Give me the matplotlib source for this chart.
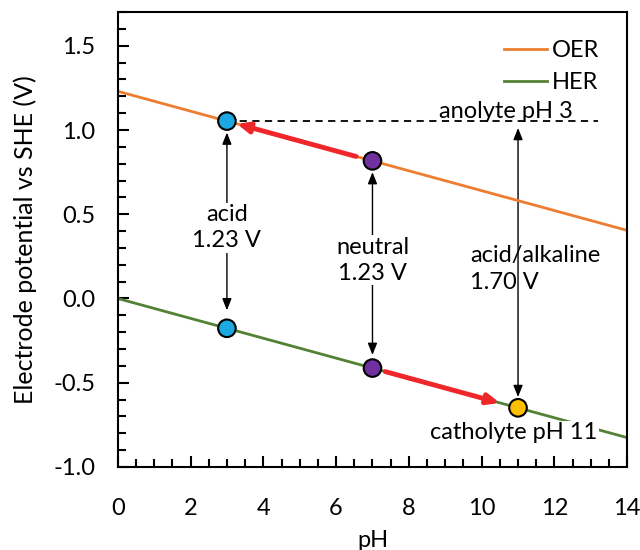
import numpy as np
import matplotlib.pyplot as plt
from matplotlib.ticker import MultipleLocator

plt.rcParams['font.family'] = ['Lato', 'DejaVu Sans']

ph_line = [0, 14]
oer_line = [1.23, 0.404]
her_line = [0.0, -0.826]

pt_ph = [3, 7, 3, 7, 11]
pt_e = [1.053, 0.817, -0.177, -0.413, -0.649]
pt_colors = ['#1CA9E1', '#7030A0', '#1CA9E1', '#7030A0', '#FFC000']

fig = plt.figure(figsize=(6.4, 5.5), dpi=100)
ax = fig.add_axes([0.184, 0.151, 0.796, 0.827])

ax.plot(ph_line, oer_line, color='#ED7D31', lw=2, label='OER', zorder=2)
ax.plot(ph_line, her_line, color='#548235', lw=2, label='HER', zorder=2)

# dashed anolyte line
ax.plot([3, 13.2], [1.053, 1.053], ls=(0, (4, 3)), color='black', lw=1.3, zorder=1)

# red arrows
ax.annotate('', xy=(3.27, 1.037), xytext=(6.55, 0.843),
            arrowprops=dict(arrowstyle='-|>,head_length=0.7,head_width=0.3', color='#F0272A', lw=3.5, shrinkA=0, shrinkB=0), zorder=3)
ax.annotate('', xy=(10.5, -0.62), xytext=(7.35, -0.434),
            arrowprops=dict(arrowstyle='-|>,head_length=0.7,head_width=0.3', color='#F0272A', lw=3.5, shrinkA=0, shrinkB=0), zorder=3)

# black double arrows
def darrow(x, y1, y2):
    ax.annotate('', xy=(x, y1), xytext=(x, y2),
                arrowprops=dict(arrowstyle='<|-|>,head_length=0.7,head_width=0.28', color='black', lw=1, shrinkA=0, shrinkB=0), zorder=1)

darrow(3, 0.985, -0.07)
darrow(7, 0.75, -0.335)
darrow(11, 1.012, -0.585)

ax.scatter(pt_ph, pt_e, s=160, c=pt_colors, edgecolors='black', linewidths=1.5, zorder=5)

fs = 17
bb = dict(facecolor='white', edgecolor='none', pad=1)
ax.text(3, 0.42, 'acid\n1.23 V', ha='center', va='center', fontsize=fs, linespacing=1.3, bbox=bb, zorder=2)
ax.text(7, 0.228, 'neutral\n1.23 V', ha='center', va='center', fontsize=fs, linespacing=1.3, bbox=bb, zorder=2)
ax.text(9.68, 0.175, 'acid/alkaline\n1.70 V', ha='left', va='center', fontsize=fs, linespacing=1.3, zorder=2)
ax.text(10.67, 1.05, 'anolyte pH 3', ha='center', va='bottom', fontsize=fs, zorder=2)
ax.text(10.89, -0.798, 'catholyte pH 11', ha='center', va='center', fontsize=fs, bbox=bb, zorder=2)

ax.set_xlim(0, 14)
ax.set_ylim(-1.0, 1.7)
ax.xaxis.set_major_locator(MultipleLocator(2))
ax.xaxis.set_minor_locator(MultipleLocator(0.5))
ax.yaxis.set_major_locator(MultipleLocator(0.5))
ax.yaxis.set_minor_locator(MultipleLocator(0.1))
ax.set_yticks([-1.0, -0.5, 0.0, 0.5, 1.0, 1.5])
ax.set_yticklabels(['-1.0', '-0.5', '0.0', '0.5', '1.0', '1.5'])
ax.tick_params(which='both', direction='in', width=1.5, labelsize=fs)
ax.tick_params(which='major', length=8)
ax.tick_params(which='minor', length=6)
ax.tick_params(axis='x', which='major', pad=22)
ax.tick_params(axis='y', which='major', pad=16)
for s in ax.spines.values():
    s.set_linewidth(1.5)

ax.set_xlabel('pH', fontsize=fs, labelpad=8)
ax.set_ylabel('Electrode potential vs SHE (V)', fontsize=fs + 1, labelpad=12)

ax.legend(loc='upper right', frameon=False, fontsize=fs, handlelength=1.8, handletextpad=0.2,
          borderaxespad=0.9, borderpad=0.3, labelspacing=0.45)

fig.savefig('out.png', dpi=100)
